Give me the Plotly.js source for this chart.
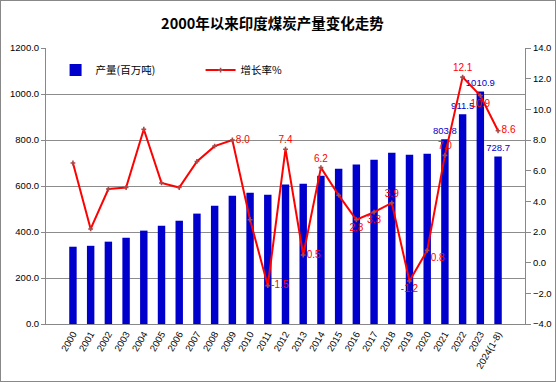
<!DOCTYPE html>
<html>
<head>
<meta charset="utf-8">
<script src="https://cdn.plot.ly/plotly-3.0.1.min.js"></script>
<style>
html,body{margin:0;padding:0;background:#fff;}
#wrap{position:relative;width:556px;height:382px;}
#chart{width:556px;height:382px;}
#frame{position:absolute;left:0;top:0;width:556px;height:382px;box-sizing:border-box;border:1px solid #888;pointer-events:none;}
</style>
</head>
<body>
<div id="wrap"><div id="chart"></div><div id="frame"></div></div>
<script>
const years = ["2000","2001","2002","2003","2004","2005","2006","2007","2008","2009","2010","2011","2012","2013","2014","2015","2016","2017","2018","2019","2020","2021","2022","2023","2024(1-8)"];
const production = [336,340,358,375,406,427,449,480,514,558,571,562,606,610,645,675,693,714,745,736,740,803.8,911.5,1010.9,728.7];
const growth = [6.5,2.2,4.8,4.9,8.7,5.2,4.9,6.6,7.6,8.0,2.8,-1.5,7.4,0.5,6.2,4.4,2.8,3.3,3.9,-1.2,0.8,7.0,12.1,10.9,8.6];
const prodLabels = ["","","","","","","","","","","","","","","","","","","","","","803.8","911.5","1010.9","728.7"];
const growthLabels = ["","","","","","","","","","8.0","","-1.5","7.4","0.5","6.2","","2.8","3.3","3.9","-1.2","0.8","7.0","12.1","10.9","8.6"];
const growthLabelPos = ["top center","top center","top center","top center","top center","top center","top center","top center","top center","middle right","top center","middle right","top center","middle right","top center","top center","bottom center","bottom center","top center","bottom center","bottom right","top center","top center","bottom center","middle right"];

const baseFont = "Liberation Sans, Arial, sans-serif";
const cjkFont = "Noto Sans CJK SC, sans-serif";

const traces = [
  {
    type: "bar",
    name: "产量(百万吨)",
    x: years,
    y: production,
    marker: {color: "#0000CC"},
    width: 0.42,
    text: prodLabels,
    textposition: "outside",
    constraintext: "none",
    textfont: {color: "#0000CC", size: 9.5, family: baseFont},
    cliponaxis: false,
    hoverinfo: "x+y"
  },
  {
    type: "scatter",
    mode: "lines+markers+text",
    name: "增长率%",
    x: years,
    y: growth,
    yaxis: "y2",
    line: {color: "#FF0000", width: 2},
    marker: {symbol: "cross", size: 4, color: "#A84848"},
    text: growthLabels,
    textposition: growthLabelPos,
    textfont: {color: "#FF0000", size: 10, family: baseFont},
    cliponaxis: false
  }
];

const layout = {
  width: 556,
  height: 382,
  margin: {l: 46, r: 31, t: 48, b: 58},
  paper_bgcolor: "#fff",
  plot_bgcolor: "#fff",
  title: {
    text: "<b>2000年以来印度煤炭产量变化走势</b>",
    font: {family: cjkFont, size: 14.5, color: "#000"},
    x: 0.49, xref: "container", xanchor: "center",
    y: 0.937, yref: "container", yanchor: "middle"
  },
  showlegend: true,
  legend: {
    orientation: "h",
    x: 0.02, xanchor: "left",
    y: 0.92, yanchor: "middle",
    bgcolor: "rgba(0,0,0,0)",
    font: {family: cjkFont, size: 10.5, color: "#000"},
    entrywidth: 100,
    traceorder: "normal"
  },
  xaxis: {
    type: "category",
    tickangle: -60,
    tickfont: {family: baseFont, size: 9.5, color: "#000"},
    showline: true, linecolor: "#888", linewidth: 1,
    ticks: "", showgrid: false,
    automargin: false
  },
  yaxis: {
    range: [0, 1200],
    dtick: 200,
    tickformat: ".1f",
    showgrid: true, gridcolor: "#8c8c8c", gridwidth: 1,
    showline: true, linecolor: "#888", linewidth: 1,
    ticks: "outside", ticklen: 4, tickcolor: "#888",
    tickfont: {family: baseFont, size: 9.5, color: "#000"},
    zeroline: false,
    automargin: false
  },
  yaxis2: {
    overlaying: "y",
    side: "right",
    range: [-4, 14],
    dtick: 2,
    tickformat: ".1f",
    showgrid: false,
    showline: true, linecolor: "#888", linewidth: 1,
    ticks: "outside", ticklen: 5, tickcolor: "#888",
    tickfont: {family: baseFont, size: 9.5, color: "#000"},
    zeroline: false,
    automargin: false
  }
};

Plotly.newPlot("chart", traces, layout, {displayModeBar: false, staticPlot: true});
</script>
</body>
</html>
